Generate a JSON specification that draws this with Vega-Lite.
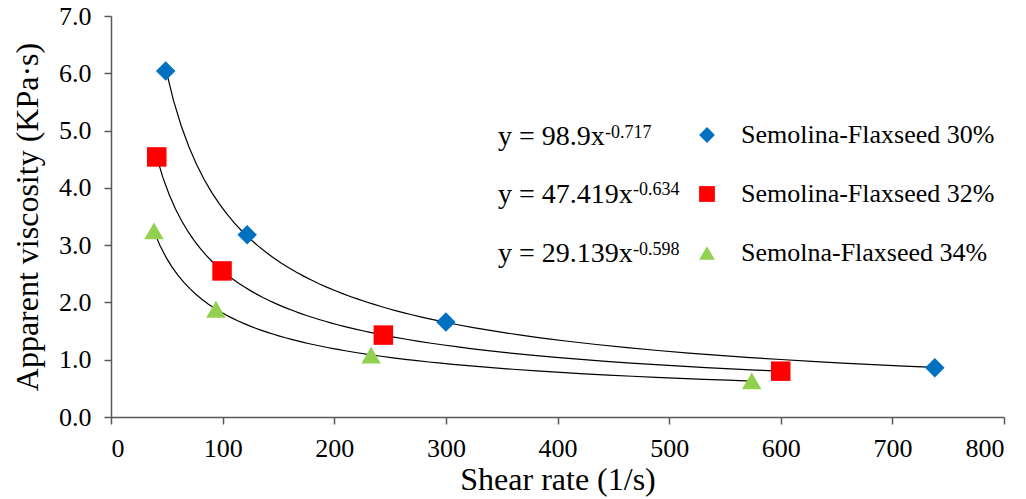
{
  "$schema": "https://vega.github.io/schema/vega-lite/v6.json",
  "width": 893,
  "height": 401,
  "autosize": {"type": "none"},
  "padding": {"left": 111, "top": 16, "right": 22, "bottom": 82},
  "background": "white",
  "config": {
    "view": {"stroke": null},
    "font": "Liberation Serif",
    "axis": {
      "grid": false,
      "domainColor": "#595959",
      "domainWidth": 1.5,
      "tickColor": "#595959",
      "tickWidth": 1.5,
      "tickSize": 7,
      "labelFont": "Liberation Serif",
      "labelFontSize": 26,
      "labelColor": "black",
      "titleFont": "Liberation Serif",
      "titleFontSize": 32,
      "titleFontWeight": "normal",
      "titleColor": "black"
    }
  },
  "data": {
    "values": [
      {"series": "Semolina-Flaxseed 30%", "shear": 49, "viscosity": 6.04},
      {"series": "Semolina-Flaxseed 30%", "shear": 122, "viscosity": 3.18},
      {"series": "Semolina-Flaxseed 30%", "shear": 300, "viscosity": 1.66},
      {"series": "Semolina-Flaxseed 30%", "shear": 738, "viscosity": 0.86},
      {"series": "Semolina-Flaxseed 32%", "shear": 41, "viscosity": 4.54},
      {"series": "Semolina-Flaxseed 32%", "shear": 99.5, "viscosity": 2.55},
      {"series": "Semolina-Flaxseed 32%", "shear": 244, "viscosity": 1.43},
      {"series": "Semolina-Flaxseed 32%", "shear": 600, "viscosity": 0.8},
      {"series": "Semolna-Flaxseed 34%", "shear": 38.5, "viscosity": 3.25},
      {"series": "Semolna-Flaxseed 34%", "shear": 94, "viscosity": 1.88},
      {"series": "Semolna-Flaxseed 34%", "shear": 233, "viscosity": 1.08},
      {"series": "Semolna-Flaxseed 34%", "shear": 574, "viscosity": 0.63}
    ]
  },
  "layer": [
    {
      "transform": [
        {"regression": "viscosity", "on": "shear", "groupby": ["series"], "method": "pow"}
      ],
      "mark": {"type": "line", "color": "black", "strokeWidth": 1.2},
      "encoding": {
        "x": {
          "field": "shear",
          "type": "quantitative",
          "scale": {"domain": [0, 800], "nice": false},
          "axis": {"values": [0, 100, 200, 300, 400, 500, 600, 700, 800], "title": "Shear rate (1/s)", "labelPadding": 11, "titlePadding": 3}
        },
        "y": {
          "field": "viscosity",
          "type": "quantitative",
          "scale": {"domain": [0, 7], "nice": false},
          "axis": {"values": [0, 1, 2, 3, 4, 5, 6, 7], "format": ".1f", "title": "Apparent viscosity (KPa·s)", "labelPadding": 13, "titlePadding": 14}
        },
        "detail": {"field": "series"}
      }
    },
    {
      "mark": {"type": "point", "filled": true, "opacity": 1, "size": 380, "strokeWidth": 0},
      "encoding": {
        "x": {"field": "shear", "type": "quantitative"},
        "y": {"field": "viscosity", "type": "quantitative"},
        "color": {
          "field": "series",
          "type": "nominal",
          "scale": {"domain": ["Semolina-Flaxseed 30%", "Semolina-Flaxseed 32%", "Semolna-Flaxseed 34%"], "range": ["#0070C0", "#FF0000", "#92D050"]},
          "legend": {"title": null, "orient": "none", "legendX": 583, "legendY": 106, "padding": 0, "labelFont": "Liberation Serif", "labelFontSize": 26, "labelColor": "black", "labelLimit": 400, "symbolSize": 250, "rowPadding": 33, "labelOffset": 21, "symbolStrokeWidth": 0, "symbolOpacity": 1}
        },
        "shape": {
          "field": "series",
          "type": "nominal",
          "scale": {"domain": ["Semolina-Flaxseed 30%", "Semolina-Flaxseed 32%", "Semolna-Flaxseed 34%"], "range": ["diamond", "square", "triangle-up"]},
          "legend": {"title": null, "orient": "none", "legendX": 583, "legendY": 106, "padding": 0, "labelFont": "Liberation Serif", "labelFontSize": 26, "labelColor": "black", "labelLimit": 400, "symbolSize": 250, "rowPadding": 33, "labelOffset": 21, "symbolStrokeWidth": 0, "symbolOpacity": 1}
        }
      }
    },
    {
      "data": {"values": [{}]},
      "mark": {"type": "text", "text": "y = 98.9x", "align": "left", "baseline": "alphabetic", "font": "Liberation Serif", "fontSize": 28, "color": "black"},
      "encoding": {"x": {"datum": 346.7}, "y": {"datum": 4.748}}
    },
    {
      "data": {"values": [{}]},
      "mark": {"type": "text", "text": "-0.717", "align": "left", "baseline": "alphabetic", "font": "Liberation Serif", "fontSize": 18, "color": "black"},
      "encoding": {"x": {"datum": 442.6}, "y": {"datum": 4.87}}
    },
    {
      "data": {"values": [{}]},
      "mark": {"type": "text", "text": "y = 47.419x", "align": "left", "baseline": "alphabetic", "font": "Liberation Serif", "fontSize": 28, "color": "black"},
      "encoding": {"x": {"datum": 346.7}, "y": {"datum": 3.736}}
    },
    {
      "data": {"values": [{}]},
      "mark": {"type": "text", "text": "-0.634", "align": "left", "baseline": "alphabetic", "font": "Liberation Serif", "fontSize": 18, "color": "black"},
      "encoding": {"x": {"datum": 467.6}, "y": {"datum": 3.875}}
    },
    {
      "data": {"values": [{}]},
      "mark": {"type": "text", "text": "y = 29.139x", "align": "left", "baseline": "alphabetic", "font": "Liberation Serif", "fontSize": 28, "color": "black"},
      "encoding": {"x": {"datum": 346.7}, "y": {"datum": 2.711}}
    },
    {
      "data": {"values": [{}]},
      "mark": {"type": "text", "text": "-0.598", "align": "left", "baseline": "alphabetic", "font": "Liberation Serif", "fontSize": 18, "color": "black"},
      "encoding": {"x": {"datum": 467.6}, "y": {"datum": 2.828}}
    }
  ]
}
